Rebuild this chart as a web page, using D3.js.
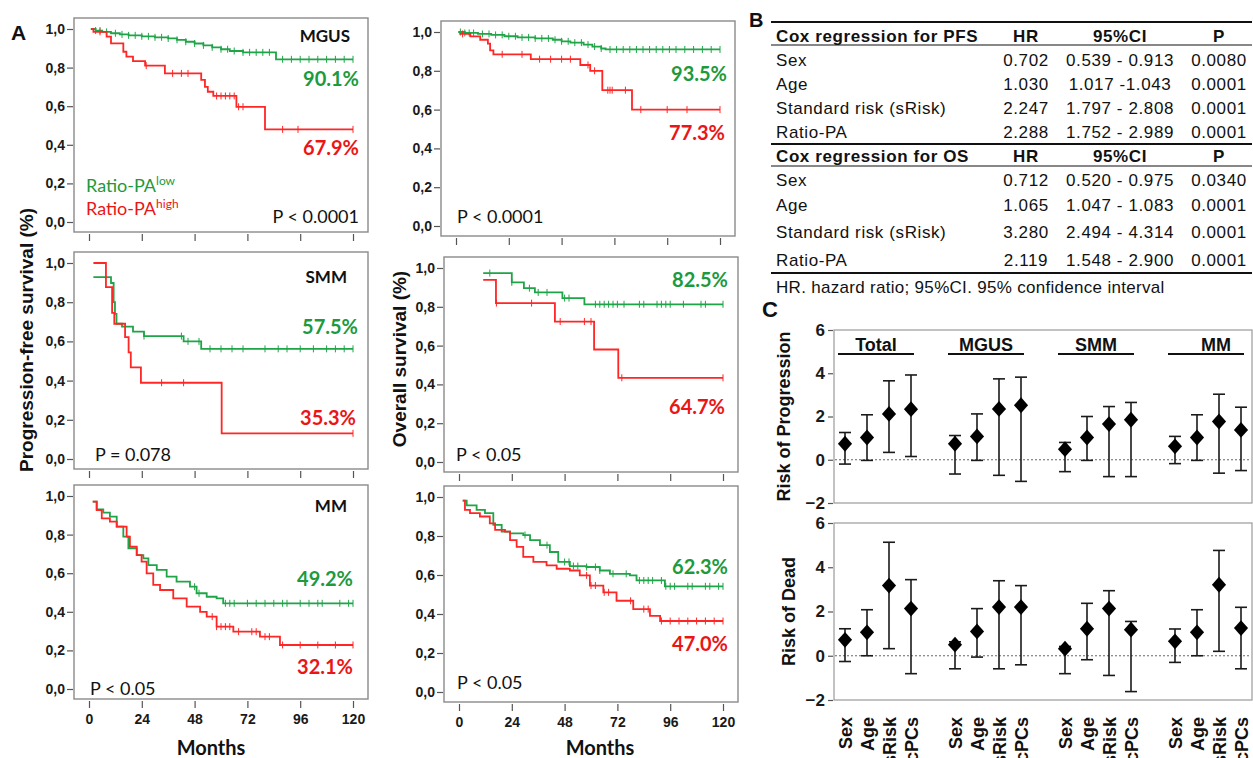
<!DOCTYPE html>
<html>
<head>
<meta charset="utf-8">
<script src="https://cdn.jsdelivr.net/npm/d3@7"></script>
<style>
  body { margin: 0; background: #fff; }
  svg { display: block; }
</style>
</head>
<body>
<script>
// ---- panel A: Kaplan-Meier steps [month, survival] and censor months
const months = [0, 24, 48, 72, 96, 120];
const survTicks = [0, 0.2, 0.4, 0.6, 0.8, 1.0];

const pfsMgusLow = [[0.8,1.0],[3,0.992],[6,0.985],[10,0.978],[14,0.972],[18,0.967],[24,0.962],[30,0.957],[36,0.951],[40,0.944],[44,0.934],[48,0.925],[52,0.915],[56,0.905],[60,0.895],[64,0.886],[70,0.879],[85,0.843]];
const pfsMgusHigh = [[1,1.0],[2,0.985],[8,0.96],[10,0.926],[15.6,0.882],[17,0.857],[20,0.834],[25.5,0.81],[34.5,0.77],[51,0.736],[52.7,0.70],[54,0.675],[56.5,0.653],[67,0.597],[80,0.48]];
const osMgusLow = [[1,1.0],[4,0.995],[10,0.99],[16,0.985],[22,0.978],[28,0.972],[36,0.967],[44,0.96],[48,0.952],[52,0.945],[58,0.935],[62,0.925],[66,0.915],[68,0.91]];
const osMgusHigh = [[1.5,0.99],[6.5,0.977],[11,0.96],[14.5,0.94],[15.5,0.905],[17,0.885],[34,0.86],[56.5,0.83],[61,0.80],[66.5,0.70],[80,0.60]];
const pfsSmmLow = [[2,0.928],[10,0.898],[11.2,0.80],[11.8,0.74],[12.5,0.69],[15,0.675],[20,0.65],[25,0.627],[43,0.60],[51,0.562]];
const pfsSmmHigh = [[2,1.0],[7.7,0.877],[10.5,0.746],[11.5,0.69],[16.4,0.622],[18,0.544],[19,0.467],[23.6,0.389],[60.3,0.131]];
const osSmmLow = [[11,0.974],[24,0.926],[29.5,0.896],[34.5,0.874],[47,0.845],[57,0.813]];
const osSmmHigh = [[11,0.939],[16.8,0.819],[43.6,0.724],[61.4,0.58],[72.4,0.434]];
const pfsMmLow = [[1.7,0.971],[3.5,0.931],[6.5,0.914],[9.5,0.893],[12.6,0.841],[15.6,0.789],[17.9,0.729],[21.7,0.694],[24.7,0.677],[27,0.642],[30.8,0.617],[35.3,0.582],[39.8,0.556],[45.9,0.53],[48.9,0.496],[53.5,0.478],[58,0.47],[61,0.444]];
const pfsMmHigh = [[1.7,0.971],[3.5,0.927],[5.8,0.884],[9.5,0.867],[12.6,0.841],[17.1,0.789],[18.6,0.737],[21.7,0.694],[23.9,0.66],[26.2,0.599],[29.2,0.539],[32.3,0.513],[38.3,0.47],[44.4,0.427],[50.5,0.40],[53.5,0.375],[58,0.323],[65.6,0.297],[77.7,0.271],[86.8,0.228]];
const osMmLow = [[1.7,0.981],[3.5,0.957],[8,0.934],[11.8,0.917],[15.6,0.857],[19.4,0.822],[23.2,0.813],[29.2,0.805],[32.3,0.779],[36.8,0.753],[41.3,0.718],[45.1,0.667],[50.4,0.646],[57.9,0.641],[64,0.623],[68.6,0.606],[77.7,0.598],[80.7,0.572],[93.6,0.542]];
const osMmHigh = [[1.7,0.981],[2.7,0.934],[5,0.917],[9.5,0.9],[14,0.865],[16.4,0.831],[20.9,0.822],[23.2,0.779],[26.2,0.744],[29.2,0.693],[33.8,0.667],[39.8,0.649],[44.4,0.632],[50.4,0.623],[54.9,0.598],[59.5,0.546],[65.6,0.511],[71.6,0.468],[79.2,0.425],[86.8,0.39],[91.4,0.364]];

const cenPfsMgusLow = [3,5,8,12,15,18,21,24,27,30,33,36,40,44,48,52,56,60,63,66,70,73,76,79,82,88,92,96,100,104,108,112,116,120];
const cenPfsMgusHigh = [5,26,38,42,45,58,60,62,64,66,68,70,88,95,120];
const cenOsMgusLow = [2,4,6,8,12,15,18,21,24,27,30,33,36,39,42,45,48,51,54,57,60,63,66,70,73,76,79,82,85,88,91,94,97,100,104,108,112,116,120];
const cenOsMgusHigh = [3,21,30,38,43,48,52,60,63,69,70,71,77,84,96,105,120];
const cenPfsSmmLow = [25,42,45,50,55,60,65,70,80,86,90,96,102,108,112,116,120];
const cenPfsSmmHigh = [33,43,120];
const cenOsSmmLow = [14,24,32,36,40,48,50,62,64,66,68,70,72,75,82,84,90,92,94,96,102,110,112,120];
const cenOsSmmHigh = [17,33,46,57,60,74,120];
const cenPfsMmLow = [48,50,62,64,66,72,76,80,84,88,90,96,100,104,106,114,118,120];
const cenPfsMmHigh = [56,58,60,62,64,68,74,76,80,82,88,96,104,112,120];
const cenOsMmLow = [30,40,48,50,52,54,58,62,64,70,76,82,84,86,88,92,94,96,98,104,106,112,114,118,120];
const cenOsMmHigh = [58,60,62,66,68,78,84,86,92,96,100,104,108,112,116,120];

// ---- panel B: Cox regression tables
const pfsHeader = ["Cox regression for PFS", "HR", "95%CI", "P"];
const pfsRows = [
  ["Sex", "0.702", "0.539 - 0.913", "0.0080"],
  ["Age", "1.030", "1.017 -1.043", "0.0001"],
  ["Standard risk (sRisk)", "2.247", "1.797 - 2.808", "0.0001"],
  ["Ratio-PA", "2.288", "1.752 - 2.989", "0.0001"]
];
const osHeader = ["Cox regression for OS", "HR", "95%CI", "P"];
const osRows = [
  ["Sex", "0.712", "0.520 - 0.975", "0.0340"],
  ["Age", "1.065", "1.047 - 1.083", "0.0001"],
  ["Standard risk (sRisk)", "3.280", "2.494 - 4.314", "0.0001"],
  ["Ratio-PA", "2.119", "1.548 - 2.900", "0.0001"]
];
const footnote = "HR. hazard ratio; 95%CI. 95% confidence interval";

// ---- panel C: estimates with error bars, order = group x covariate
const groups = ["Total", "MGUS", "SMM", "MM"];
const covariates = ["Sex", "Age", "sRisk", "cPCs"];
const cTicks = [-2, 0, 2, 4, 6];
const progEst  = [0.74, 1.03, 2.12, 2.34,  0.74, 1.08, 2.35, 2.52,  0.49, 1.03, 1.65, 1.85,  0.62, 1.03, 1.77, 1.38];
const progLow  = [-0.2, -0.03, 0.34, 0.15, -0.66, -0.03, -0.72, -1.0, -0.55, -0.03, -0.78, -0.78, -0.18, -0.03, -0.62, -0.5];
const progHigh = [1.26, 2.08, 3.65, 3.92,  1.12, 2.12, 3.74, 3.82,  0.8, 2.0, 2.46, 2.65,  1.08, 2.08, 3.03, 2.43];
const deadEst  = [0.72, 1.06, 3.17, 2.13,  0.5, 1.1, 2.2, 2.2,  0.32, 1.22, 2.13, 1.18,  0.65, 1.06, 3.21, 1.25];
const deadLow  = [-0.26, 0, 0.32, -0.81, -0.59, -0.06, -0.59, -0.41, -0.81, -0.18, -0.89, -1.62, -0.3, 0, 0.2, -0.59];
const deadHigh = [1.22, 2.08, 5.13, 3.44,  0.63, 2.13, 3.39, 3.17,  0.42, 2.37, 2.94, 1.55,  1.21, 2.08, 4.76, 2.19];

const green = "#1fa448", red = "#ff2626", greenText = "#1c9a3c", redText = "#ec1515";
const arial = "'Liberation Sans', Arial, sans-serif";
const calib = "Lato, 'Open Sans', sans-serif";

const svg = d3.select("body").append("svg")
  .attr("width", 1253).attr("height", 758)
  .style("font-family", arial);

const stepAt = (d, t) => {
  let v = d[0][1];
  d.forEach(q => { if (q[0] <= t) v = q[1]; });
  return v;
};

const styleAxis = (a, size) => {
  a.select(".domain").remove();
  a.selectAll("line").attr("stroke", "#555").attr("stroke-width", 1.2);
  a.selectAll("text").attr("fill", "#1a1a1a").attr("font-size", size).attr("font-weight", "bold").attr("font-family", arial);
};

let drawKM = (p) => {
  const x = d3.scaleLinear().domain([0, 120]).range([p.left + 15, p.left + 279]);
  const y = d3.scaleLinear().domain([0, 1]).range([p.top + p.h - 10, p.top + 11]);
  const g = svg.append("g");
  g.append("rect")
    .attr("x", p.left).attr("y", p.top).attr("width", 294).attr("height", p.h)
    .attr("fill", "none").attr("stroke", "#8a8a8a").attr("stroke-width", 1.4);
  const ya = g.append("g").attr("transform", `translate(${p.left - 1},0)`)
    .call(d3.axisLeft(y).tickValues(survTicks).tickSize(6).tickPadding(2)
      .tickFormat(d => d3.format(".1f")(d).replace(".", ",")));
  styleAxis(ya, 14);
  const xa = g.append("g").attr("transform", `translate(0,${p.top + p.h + 2})`)
    .call(d3.axisBottom(x).tickValues(months).tickSize(7).tickPadding(6)
      .tickFormat(p.labels ? d3.format("d") : ""));
  styleAxis(xa, 14);

  [[p.low, p.lowC, green], [p.high, p.highC, red]].forEach(([d, c, col]) => {
    const pts = d.concat([[120, d[d.length - 1][1]]]);
    g.append("path").datum(pts)
      .attr("fill", "none").attr("stroke", col).attr("stroke-width", 1.8)
      .attr("d", d3.line().curve(d3.curveStepAfter).x(q => x(q[0])).y(q => y(q[1])));
    g.append("g").selectAll("line").data(c).enter().append("line")
      .attr("x1", t => x(t)).attr("x2", t => x(t))
      .attr("y1", t => y(stepAt(d, t)) - 3.5).attr("y2", t => y(stepAt(d, t)) + 3.5)
      .attr("stroke", col).attr("stroke-width", 1);
  });
};

const kmPanels = [
  {left: 74,  top: 18,  h: 214, low: pfsMgusLow, high: pfsMgusHigh, lowC: cenPfsMgusLow, highC: cenPfsMgusHigh, labels: false},
  {left: 441, top: 21,  h: 215, low: osMgusLow,  high: osMgusHigh,  lowC: cenOsMgusLow,  highC: cenOsMgusHigh,  labels: false},
  {left: 74,  top: 252, h: 217, low: pfsSmmLow,  high: pfsSmmHigh,  lowC: cenPfsSmmLow,  highC: cenPfsSmmHigh,  labels: false},
  {left: 444, top: 257, h: 215, low: osSmmLow,   high: osSmmHigh,   lowC: cenOsSmmLow,   highC: cenOsSmmHigh,   labels: false},
  {left: 74,  top: 485, h: 214, low: pfsMmLow,   high: pfsMmHigh,   lowC: cenPfsMmLow,   highC: cenPfsMmHigh,   labels: true},
  {left: 444, top: 486, h: 216, low: osMmLow,    high: osMmHigh,    lowC: cenOsMmLow,    highC: cenOsMmHigh,    labels: true}
];
kmPanels.forEach(drawKM);

// annotations inside the KM plots
const kmNotes = [
  ["MGUS", 350, 42, "end", "#111", 17, "bold"],
  ["90.1%", 359, 86, "end", greenText, 20, "bold"],
  ["67.9%", 359, 155, "end", redText, 20, "bold"],
  ["P < 0.0001", 359, 223, "end", "#111", 18, "normal"],
  ["93.5%", 727, 81, "end", greenText, 20, "bold"],
  ["77.3%", 725, 140, "end", redText, 20, "bold"],
  ["P < 0.0001", 457, 223, "start", "#111", 18, "normal"],
  ["SMM", 347, 283, "end", "#111", 17, "bold"],
  ["57.5%", 358, 334, "end", greenText, 20, "bold"],
  ["35.3%", 356, 425, "end", redText, 20, "bold"],
  ["P = 0.078", 95, 461, "start", "#111", 18, "normal"],
  ["82.5%", 728, 287, "end", greenText, 20, "bold"],
  ["64.7%", 725, 414, "end", redText, 20, "bold"],
  ["P < 0.05", 456, 461, "start", "#111", 18, "normal"],
  ["MM", 347, 512, "end", "#111", 17, "bold"],
  ["49.2%", 353, 586, "end", greenText, 20, "bold"],
  ["32.1%", 353, 674, "end", redText, 20, "bold"],
  ["P < 0.05", 90, 695, "start", "#111", 18, "normal"],
  ["62.3%", 728, 574, "end", greenText, 20, "bold"],
  ["47.0%", 728, 651, "end", redText, 20, "bold"],
  ["P < 0.05", 457, 689, "start", "#111", 18, "normal"]
];
svg.append("g").selectAll("text").data(kmNotes).enter().append("text")
  .attr("x", d => d[1]).attr("y", d => d[2])
  .attr("text-anchor", d => d[3]).attr("fill", d => d[4])
  .attr("font-size", d => d[5]).attr("font-weight", d => d[6])
  .attr("font-family", calib)
  .text(d => d[0]);

// legend
[["low", greenText, 192], ["high", redText, 215]].forEach(([sup, col, yy]) => {
  const t = svg.append("text").attr("x", 86).attr("y", yy)
    .attr("fill", col).attr("font-size", 18).attr("font-family", calib);
  t.append("tspan").text("Ratio-PA");
  t.append("tspan").attr("dy", -7).attr("font-size", 12).text(sup);
});

// axis titles panel A
svg.append("text").attr("transform", "translate(33,340) rotate(-90)")
  .attr("text-anchor", "middle").attr("font-size", 19).attr("font-weight", "bold")
  .attr("fill", "#111").text("Progression-free survival (%)");
svg.append("text").attr("transform", "translate(406,359) rotate(-90)")
  .attr("text-anchor", "middle").attr("font-size", 19).attr("font-weight", "bold")
  .attr("fill", "#111").text("Overall survival (%)");
[211, 600].forEach(cx => {
  svg.append("text").attr("x", cx).attr("y", 755).attr("text-anchor", "middle")
    .attr("font-family", calib).attr("font-size", 20).attr("font-weight", "bold")
    .attr("fill", "#111").text("Months");
});

// panel letters
[["A", 11, 40, 21], ["B", 749, 27, 20], ["C", 762, 317, 22]].forEach(([t, x, y, s]) => {
  svg.append("text").attr("x", x).attr("y", y).attr("font-size", s)
    .attr("font-weight", "bold").attr("fill", "#111").text(t);
});

// ---- panel B table
const colX = [776, 1026, 1120, 1219];
const tbl = svg.append("g").attr("font-size", 17).attr("letter-spacing", 0.6).attr("fill", "#111");
const drawRow = (row, yy, bold) => {
  row.forEach((cell, i) => {
    tbl.append("text").attr("x", colX[i]).attr("y", yy)
      .attr("text-anchor", i === 0 ? "start" : "middle")
      .attr("font-weight", bold ? "bold" : "normal")
      .text(cell);
  });
};
drawRow(pfsHeader, 42, true);
pfsRows.forEach((r, i) => drawRow(r, 66 + i * 24, false));
drawRow(osHeader, 162, true);
osRows.forEach((r, i) => drawRow(r, [186, 211, 238, 266][i], false));
tbl.append("text").attr("x", 776).attr("y", 293).attr("letter-spacing", 0.3).text(footnote);
[[22, 2], [45, 1.2], [144, 2], [166, 1.2], [273, 2]].forEach(([yy, w]) => {
  svg.append("line").attr("x1", 771).attr("x2", 1252).attr("y1", yy).attr("y2", yy)
    .attr("stroke", "#111").attr("stroke-width", w);
});

// ---- panel C forest plots
const cX = d3.scaleLinear().domain([0, 18]).range([845, 1241]);
const slot = k => cX(Math.floor(k / 4) * 5 + (k % 4));

let drawForest = (top, bottom, est, lo, hi, title, titleX) => {
  const y = d3.scaleLinear().domain([-2, 6]).range([bottom, top]);
  const g = svg.append("g");
  g.append("rect").attr("x", 834).attr("y", top).attr("width", 418).attr("height", bottom - top)
    .attr("fill", "none").attr("stroke", "#9a9a9a").attr("stroke-width", 1.2);
  const ya = g.append("g").attr("transform", "translate(833,0)")
    .call(d3.axisLeft(y).tickValues(cTicks).tickSize(5).tickPadding(3));
  styleAxis(ya, 17);
  g.append("line").attr("x1", 835).attr("x2", 1251).attr("y1", y(0)).attr("y2", y(0))
    .attr("stroke", "#555").attr("stroke-width", 0.9).attr("stroke-dasharray", "2,2");
  const bars = g.append("g").attr("stroke", "#1a1a1a").attr("stroke-width", 1.6);
  est.forEach((e, k) => {
    const xx = slot(k);
    bars.append("line").attr("x1", xx).attr("x2", xx).attr("y1", y(lo[k])).attr("y2", y(hi[k]));
    [lo[k], hi[k]].forEach(v => {
      bars.append("line").attr("x1", xx - 6).attr("x2", xx + 6).attr("y1", y(v)).attr("y2", y(v));
    });
  });
  g.append("g").selectAll("path").data(est).enter().append("path")
    .attr("d", d3.symbol(d3.symbolSquare, 100))
    .attr("transform", (e, k) => `translate(${slot(k)},${y(e)}) scale(1,1.12) rotate(45)`)
    .attr("fill", "#000");
  g.append("text").attr("transform", `translate(${titleX},${(top + bottom) / 2}) rotate(-90)`)
    .attr("text-anchor", "middle").attr("font-size", 18).attr("font-weight", "bold")
    .attr("fill", "#111").text(title);
  return y;
};

drawForest(330, 503, progEst, progLow, progHigh, "Risk of Progression", 790);
drawForest(523, 700, deadEst, deadLow, deadHigh, "Risk of Dead", 795);

// group titles with underlines
groups.forEach((name, gi) => {
  const x0 = cX(gi * 5) - 7, x1 = cX(gi * 5 + 3) + 3;
  svg.append("line").attr("x1", x0).attr("x2", x1).attr("y1", 354).attr("y2", 354)
    .attr("stroke", "#111").attr("stroke-width", 2);
  svg.append("text").attr("x", (x0 + x1) / 2 + (gi === 3 ? 10 : 0)).attr("y", 351)
    .attr("text-anchor", "middle").attr("font-size", 18).attr("font-weight", "bold")
    .attr("fill", "#111").text(name);
});

// rotated covariate labels
d3.range(16).forEach(k => {
  svg.append("text").attr("transform", `translate(${slot(k) + 7},717) rotate(-90)`)
    .attr("text-anchor", "end").attr("font-size", 18).attr("font-weight", "bold")
    .attr("fill", "#111").text(covariates[k % 4]);
});
</script>
</body>
</html>
